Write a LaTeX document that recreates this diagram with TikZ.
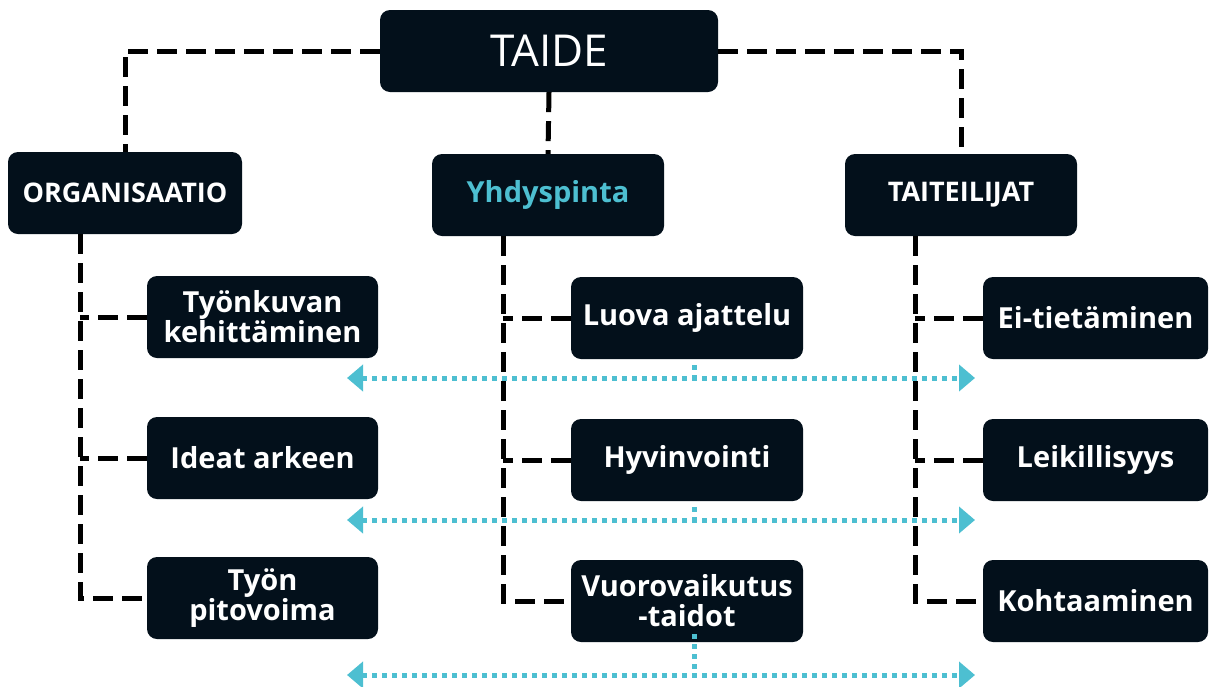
\documentclass[tikz,border=0pt]{standalone}
\usepackage{fontspec}
\setmainfont{Open Sans}
\usetikzlibrary{arrows.meta}
\definecolor{boxfill}{HTML}{03101B}
\definecolor{cyanline}{HTML}{4DBFD1}
\tikzset{
  box/.style={fill=boxfill, rounded corners=10pt, inner sep=0pt, text=white,
    font=\bfseries\fontsize{29}{30}\selectfont, align=center, minimum height=82pt},
  topbox/.style={box, minimum width=232pt},
  childbox/.style={box, minimum width=231pt},
  dashline/.style={draw=black, line width=5pt, dash pattern=on 20pt off 9pt},
  dotline/.style={draw=cyanline, line width=5pt, dash pattern=on 5pt off 5pt},
  dotarrow/.style={dotline, {Triangle[length=16pt,width=26pt,fill=cyanline]}-{Triangle[length=16pt,width=26pt,fill=cyanline]}, shorten <=0pt, shorten >=0pt}
}
\begin{document}
\begin{tikzpicture}[x=1pt,y=-1pt]
\useasboundingbox (0,0) rectangle (1210,686);
% nodes
\node[box, minimum width=338pt, font=\fontsize{44}{48}\selectfont] (taide) at (549,51) {TAIDE};
\node[topbox, minimum width=234pt, font=\bfseries\fontsize{27}{30}\selectfont] (org) at (125,193) {ORGANISAATIO};
\node[topbox, text=cyanline] (yhd) at (548,195) {Yhdyspinta};
\node[topbox, font=\bfseries\fontsize{27}{30}\selectfont] (tait) at (961,195) {TAITEILIJAT};
\node[childbox] (k1) at (262.5,317) {Työnkuvan\\kehittäminen};
\node[childbox] (k2) at (262.5,458) {Ideat arkeen};
\node[childbox] (k3) at (262.5,598) {Työn\\pitovoima};
\node[childbox, minimum width=232pt] (m1) at (687,318) {Luova ajattelu};
\node[childbox, minimum width=232pt] (m2) at (687,460) {Hyvinvointi};
\node[childbox, minimum width=232pt] (m3) at (687,601) {Vuorovaikutus\\-taidot};
\node[childbox, minimum width=225pt] (r1) at (1095.5,318) {Ei-tietäminen};
\node[childbox, minimum width=225pt] (r2) at (1095.5,460) {Leikillisyys};
\node[childbox, minimum width=225pt] (r3) at (1095.5,601) {Kohtaaminen};
% trunk coordinates
\coordinate (ot) at ([xshift=-45pt]org.south);
\coordinate (mt) at ([xshift=-45pt]yhd.south);
\coordinate (rt) at ([xshift=-46pt]tait.south);
% top connectors
\draw[dashline] (taide.west) -| (org.north);
\draw[dashline] (taide.south) -- (yhd.north);
\draw[dashline] (taide.east) -| (tait.north);
% left trunk
\draw[dashline] (ot) |- (k3.west);
\draw[dashline] (k1.west) -- (k1.west -| ot);
\draw[dashline] (k2.west) -- (k2.west -| ot);
% middle trunk
\draw[dashline] (mt) |- (m3.west);
\draw[dashline] (m1.west) -- (m1.west -| mt);
\draw[dashline] (m2.west) -- (m2.west -| mt);
% right trunk
\draw[dashline] (rt) |- (r3.west);
\draw[dashline] (r1.west) -- (r1.west -| rt);
\draw[dashline] (r2.west) -- (r2.west -| rt);
% cyan arrows
\coordinate (a1l) at (347,378); \coordinate (a1r) at (975,378);
\coordinate (a2l) at (347,520); \coordinate (a2r) at (975,520);
\coordinate (a3l) at (347,675); \coordinate (a3r) at (975,675);
\draw[dotarrow] (a1l) -- (a1r);
\draw[dotarrow] (a2l) -- (a2r);
\draw[dotarrow] (a3l) -- (a3r);
\coordinate (d1) at ([xshift=7pt,yshift=-6pt]m1.south);
\coordinate (d2) at ([xshift=7pt,yshift=-6pt]m2.south);
\coordinate (d3) at ([xshift=7pt,yshift=8pt]m3.south);
\draw[dotline] (d1) -- (d1 |- a1l);
\draw[dotline] (d2) -- (d2 |- a2l);
\draw[dotline] (d3) -- (d3 |- a3l);
\end{tikzpicture}
\end{document}
